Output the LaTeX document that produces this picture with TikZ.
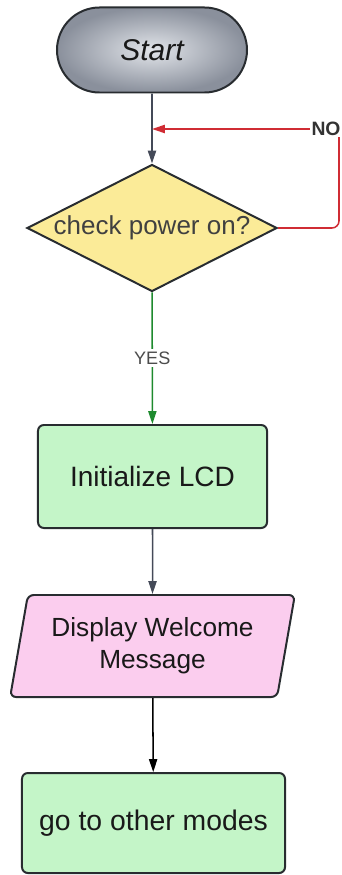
\documentclass[tikz,border=0pt]{standalone}
\usepackage{xcolor}
\usepackage{fontspec}
\setmainfont{Liberation Sans}
\usepackage{tikz}
\usetikzlibrary{arrows.meta, shapes}
\definecolor{startlight}{RGB}{226, 229, 234}
\definecolor{startdark}{RGB}{138, 144, 156}
\definecolor{linegray}{RGB}{68, 74, 88}
\definecolor{borderdark}{RGB}{40, 44, 48}
\definecolor{nored}{RGB}{208, 44, 52}
\definecolor{yesgreen}{RGB}{30, 138, 46}
\definecolor{decisionyellow}{RGB}{251, 235, 152}
\definecolor{processgreen}{RGB}{196, 245, 200}
\definecolor{outputpink}{RGB}{251, 205, 238}

\begin{document}
\begin{tikzpicture}[x=0.03cm, y=-0.03cm,
    box/.style={draw=borderdark, line width=1.7pt, align=center, inner sep=0pt},
    flow/.style={line width=1.3pt, -{Triangle[length=11pt, width=7pt]}}]
        \useasboundingbox (0, 0) rectangle (342, 875);

        % 开始 Start
        \node[box, shape=rounded rectangle, shade, inner color=startlight, outer color=startdark,
              minimum width=5.7cm, minimum height=2.55cm, font=\fontsize{25.6}{30}\selectfont\itshape,
              text=black!90] (start) at (152, 50) {Start};

        % 判断 check power on?
        \node[box, shape=diamond, shape aspect=1.97, fill=decisionyellow, minimum width=7.5cm,
              minimum height=3.81cm, font=\fontsize{22.2}{26}\selectfont, text=black!75] (check) at (152, 228) {check power on?};

        % 初始化 LCD
        \node[box, rectangle, rounded corners=5pt, fill=processgreen, minimum width=6.87cm,
              minimum height=3.09cm, font=\fontsize{23.9}{28}\selectfont, text=black!90] (initlcd) at (152.5, 476.5) {Initialize LCD};

        % 显示欢迎信息
        \node[box, trapezium, trapezium left angle=75.7, trapezium right angle=104.3, trapezium stretches=true,
              rounded corners=5pt, fill=outputpink, minimum width=8.55cm, minimum height=3.06cm,
              font=\fontsize{22.4}{27.3}\selectfont, text=black!90] (welcome) at (152.5, 646) {Display Welcome\\Message};

        % 其他模式
        \node[box, rectangle, rounded corners=5pt, fill=processgreen, minimum width=7.89cm,
              minimum height=3.0cm, font=\fontsize{24.2}{28}\selectfont, text=black!90] (othermodes) at (153.5, 823) {go to other modes};

        % 连线
        \coordinate (join) at (152, 129);
        \draw[flow, linegray] (start) -- (check);
        \draw[flow, yesgreen] (check) -- node[fill=white, text=black!70, inner sep=2pt,
              font=\fontsize{15.4}{18}\selectfont] (yes) {YES} (initlcd);
        \draw[flow, linegray] (initlcd) -- (welcome);
        \draw[flow, black] (welcome) -- (othermodes);

        % NO 回路
        \draw[flow, nored, rounded corners=6pt] (check.east) -- (339, 228) -- (339, 129) -- (join);
        \node[fill=white, inner sep=1pt, text=black!80, font=\fontsize{16.5}{18}\selectfont\bfseries] (no) at (326, 129) {NO};

    \end{tikzpicture}
\end{document}
